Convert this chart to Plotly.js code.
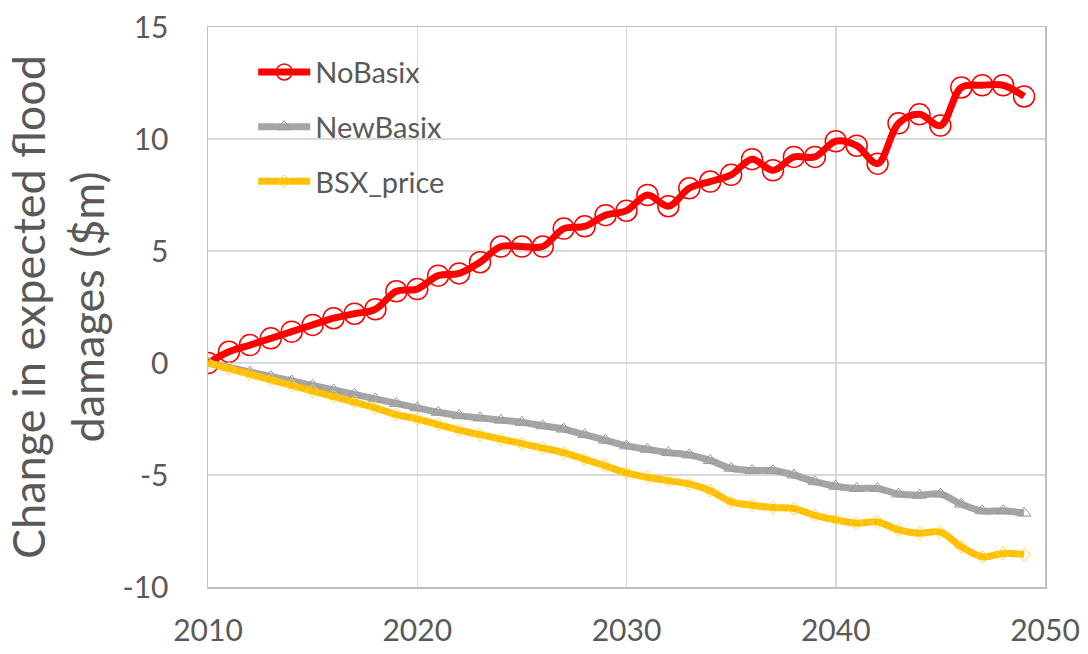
<!DOCTYPE html>
<html>
<head>
<meta charset="utf-8">
<script src="https://cdn.plot.ly/plotly-3.0.1.min.js"></script>
<style>
  html, body { margin: 0; padding: 0; background: #fff; }
  #chart { width: 1088px; height: 654px; }
</style>
</head>
<body>
<div id="chart"></div>
<script>
// Years 2010–2049, one value per year
const years = [2010,2011,2012,2013,2014,2015,2016,2017,2018,2019,
               2020,2021,2022,2023,2024,2025,2026,2027,2028,2029,
               2030,2031,2032,2033,2034,2035,2036,2037,2038,2039,
               2040,2041,2042,2043,2044,2045,2046,2047,2048,2049];

// Change in expected flood damages ($m)
const noBasix = [0, 0.5, 0.8, 1.1, 1.4, 1.7, 2.0, 2.2, 2.4, 3.2,
                 3.3, 3.9, 4.0, 4.5, 5.2, 5.2, 5.2, 6.0, 6.1, 6.6,
                 6.8, 7.5, 7.0, 7.8, 8.1, 8.4, 9.1, 8.6, 9.2, 9.2,
                 9.9, 9.7, 8.9, 10.7, 11.1, 10.6, 12.3, 12.4, 12.4, 11.9];

const newBasix = [0, -0.2, -0.4, -0.6, -0.8, -1.0, -1.2, -1.4, -1.6, -1.8,
                  -2.0, -2.2, -2.35, -2.45, -2.55, -2.65, -2.8, -2.95, -3.2, -3.45,
                  -3.7, -3.85, -4.0, -4.1, -4.35, -4.7, -4.8, -4.8, -5.0, -5.3,
                  -5.5, -5.6, -5.6, -5.85, -5.9, -5.85, -6.3, -6.6, -6.6, -6.7];

const bsxPrice = [0, -0.25, -0.5, -0.75, -1.0, -1.25, -1.5, -1.75, -2.0, -2.3,
                  -2.5, -2.75, -3.0, -3.2, -3.4, -3.6, -3.8, -4.0, -4.3, -4.6,
                  -4.9, -5.1, -5.25, -5.4, -5.7, -6.2, -6.35, -6.45, -6.5, -6.8,
                  -7.0, -7.15, -7.1, -7.45, -7.6, -7.55, -8.2, -8.65, -8.5, -8.55];

const FONT = 'Lato, "Open Sans", "DejaVu Sans", sans-serif';
const TEXT = '#595959';

const traces = [
  {
    name: 'NoBasix', legendgroup: 'a', x: years, y: noBasix, type: 'scatter', mode: 'lines+markers',
    line: { color: '#ff0000', width: 7, shape: 'spline', smoothing: 1 },
    marker: { symbol: 'circle-open', size: 21, color: '#ff0000', line: { width: 1.5, color: '#ff0000' } }
  },
  {
    name: 'NewBasix', legendgroup: 'b', x: years, y: newBasix, type: 'scatter', mode: 'lines+markers',
    line: { color: '#a5a5a5', width: 7, shape: 'spline', smoothing: 1 },
    marker: { symbol: 'triangle-up-open', size: 12, color: '#9a9a9a', line: { width: 1, color: '#9a9a9a' } }
  },
  {
    name: 'BSX_price', legendgroup: 'c', x: years, y: bsxPrice, type: 'scatter', mode: 'lines+markers',
    line: { color: '#ffc000', width: 7, shape: 'spline', smoothing: 1 },
    marker: { symbol: 'diamond-open', size: 10, color: '#ffd54a', line: { width: 1, color: '#ffd54a' } }
  }
];

const layout = {
  width: 1088, height: 654,
  margin: { l: 208, r: 43, t: 27, b: 67 },
  paper_bgcolor: '#ffffff', plot_bgcolor: '#ffffff',
  font: { family: FONT, color: TEXT },
  showlegend: true,
  legend: {
    x: 0.054, y: 0.965, xanchor: 'left', yanchor: 'top',
    bgcolor: 'rgba(255,255,255,0)',
    font: { family: FONT, size: 29, color: TEXT },
    traceorder: 'grouped', tracegroupgap: 14, itemwidth: 52
  },
  xaxis: {
    range: [2010, 2050], tickvals: [2010, 2020, 2030, 2040, 2050],
    ticktext: ['2010', '2020', '2030', '2040', '2050'],
    showgrid: true, gridcolor: '#d9d9d9', gridwidth: 1.5,
    showline: true, linecolor: '#bfbfbf', linewidth: 1.5, mirror: true,
    zeroline: false, ticks: '', ticklabelstandoff: 16,
    tickfont: { family: FONT, size: 30, color: TEXT }
  },
  yaxis: {
    range: [-10, 15], tickvals: [-10, -5, 0, 5, 10, 15],
    ticktext: ['-10', '-5', '0', '5', '10', '15'],
    showgrid: true, gridcolor: '#d9d9d9', gridwidth: 1.5,
    showline: true, linecolor: '#bfbfbf', linewidth: 1.5, mirror: true,
    zeroline: false, ticks: '', ticklabelstandoff: 32,
    tickfont: { family: FONT, size: 30, color: TEXT },
    title: {
      text: 'Change in expected flood<br>damages ($m)',
      font: { family: FONT, size: 45, color: TEXT },
      standoff: 4
    }
  }
};

Plotly.newPlot('chart', traces, layout, { staticPlot: true, displayModeBar: false });
</script>
</body>
</html>
